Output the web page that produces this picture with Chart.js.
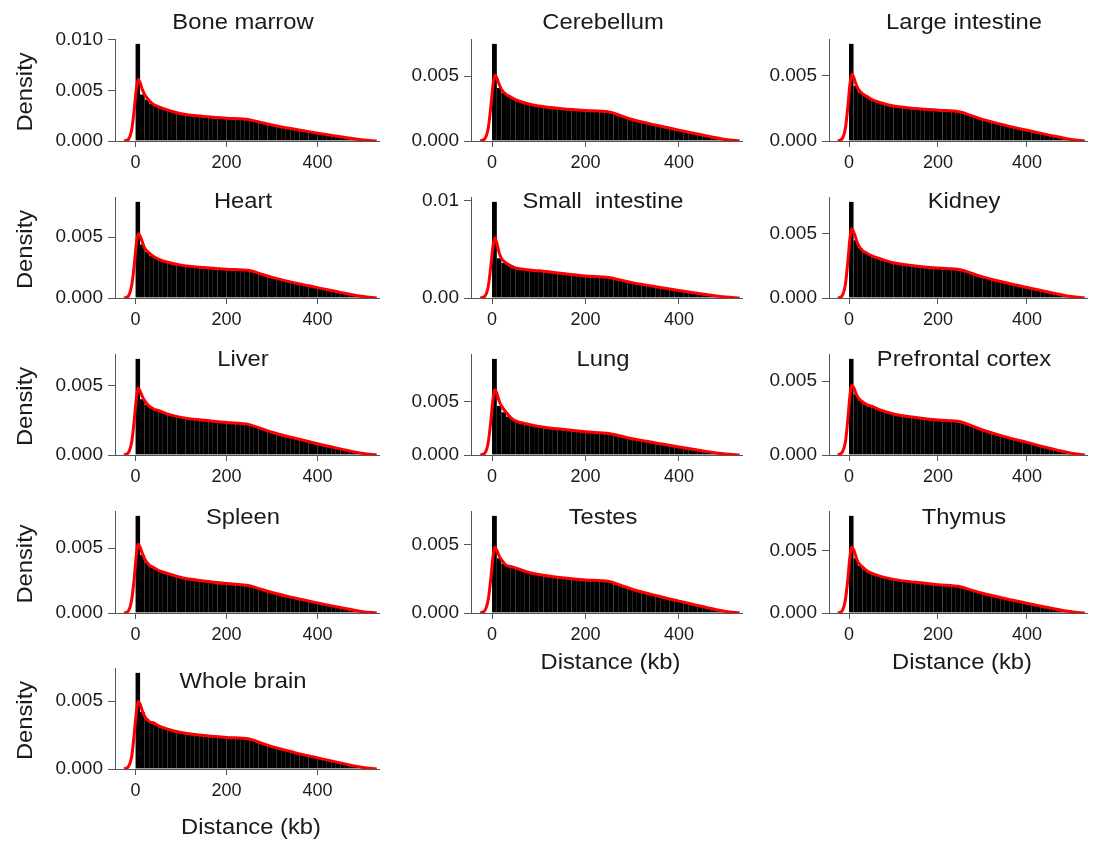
<!DOCTYPE html>
<html>
<head>
<meta charset="utf-8">
<script src="https://cdn.jsdelivr.net/npm/chart.js@4.4.0/dist/chart.umd.min.js"></script>
<style>
  body { margin: 0; background: #fff; }
  #wrap { position: relative; width: 1097px; height: 845px; overflow: hidden; }
  #wrap canvas { position: absolute; }
</style>
</head>
<body>
<div id="wrap"></div>
<script>
// panel names, in reading order
const TITLES = ['Bone marrow', 'Cerebellum', 'Large intestine', 'Heart', 'Small  intestine', 'Kidney',
                'Liver', 'Lung', 'Prefrontal cortex', 'Spleen', 'Testes', 'Thymus', 'Whole brain'];

// histogram bins (10 kb wide), bin centres
const BIN_CENTERS = [5, 15, 25, 35, 45, 55, 65, 75, 85, 95,
                     105, 115, 125, 135, 145, 155, 165, 175, 185, 195,
                     205, 215, 225, 235, 245, 255, 265, 275, 285, 295,
                     305, 315, 325, 335, 345, 355, 365, 375, 385, 395,
                     405, 415, 425, 435, 445, 455, 465, 475, 485, 495];

// x positions of the density curve samples
const CURVE_X = [-25, -15, -8, -3, 2, 6, 10, 15, 20, 30, 40, 50, 75, 100, 150, 200, 250, 275, 300, 350, 400, 450, 500, 530];

const X_TICKS = [0, 200, 400];

const boneMarrowBins = [0.0096, 0.0046, 0.0041, 0.0037, 0.0035, 0.0033, 0.0031, 0.0030, 0.0029, 0.0028,
  0.0027, 0.00263, 0.00255, 0.00248, 0.00242, 0.00238, 0.00234, 0.0023, 0.00227, 0.00225,
  0.00222, 0.0022, 0.00217, 0.00214, 0.0021, 0.00202, 0.00193, 0.00184, 0.00175, 0.00166,
  0.00157, 0.00148, 0.00139, 0.0013, 0.00121, 0.00113, 0.00105, 0.00097, 0.00089, 0.00081,
  0.00073, 0.00066, 0.00058, 0.0005, 0.00043, 0.00036, 0.00029, 0.00021, 0.00014, 0.00007];
const cerebellumBins = [0.0075, 0.0041, 0.0037, 0.0035, 0.0033, 0.0031, 0.0030, 0.0029, 0.0028, 0.0027,
  0.00268, 0.00263, 0.00258, 0.00253, 0.0025, 0.00246, 0.00243, 0.0024, 0.00237, 0.00235,
  0.00233, 0.00231, 0.00229, 0.00227, 0.00224, 0.00215, 0.00205, 0.00195, 0.00185, 0.00175,
  0.00165, 0.00156, 0.00146, 0.00137, 0.00128, 0.0012, 0.00111, 0.00103, 0.00095, 0.00087,
  0.00079, 0.00071, 0.00063, 0.00055, 0.00048, 0.0004, 0.00032, 0.00024, 0.00016, 0.00008];
const largeIntestineBins = [0.0074, 0.0042, 0.0037, 0.0035, 0.0033, 0.0031, 0.00298, 0.00288, 0.00278, 0.0027,
  0.00264, 0.00259, 0.00254, 0.0025, 0.00246, 0.00242, 0.00239, 0.00236, 0.00234, 0.00232,
  0.0023, 0.00228, 0.00226, 0.00224, 0.0022, 0.00212, 0.00203, 0.00194, 0.00184, 0.00175,
  0.00165, 0.00156, 0.00146, 0.00137, 0.00128, 0.00119, 0.0011, 0.00102, 0.00094, 0.00086,
  0.00078, 0.0007, 0.00062, 0.00054, 0.00047, 0.00039, 0.00031, 0.00023, 0.00015, 0.00007];
const heartBins = [0.0079, 0.0044, 0.0038, 0.0035, 0.0033, 0.0031, 0.003, 0.0029, 0.00282, 0.00275,
  0.00268, 0.00262, 0.00257, 0.00253, 0.00249, 0.00245, 0.00242, 0.00239, 0.00236, 0.00234,
  0.00232, 0.0023, 0.00229, 0.00227, 0.00225, 0.00216, 0.00207, 0.00197, 0.00188, 0.00178,
  0.00168, 0.00159, 0.00149, 0.0014, 0.0013, 0.00121, 0.00112, 0.00104, 0.00095, 0.00087,
  0.00079, 0.00071, 0.00063, 0.00055, 0.00048, 0.0004, 0.00032, 0.00024, 0.00016, 0.00008];
const smallIntestineBins = [0.0099, 0.0041, 0.0036, 0.0034, 0.0032, 0.0031, 0.003, 0.0029, 0.00285, 0.0028,
  0.00275, 0.0027, 0.00264, 0.00258, 0.00252, 0.00246, 0.0024, 0.00235, 0.0023, 0.00226,
  0.00222, 0.00219, 0.00216, 0.00213, 0.0021, 0.00202, 0.00193, 0.00184, 0.00175, 0.00166,
  0.00157, 0.00148, 0.00139, 0.0013, 0.00121, 0.00113, 0.00105, 0.00097, 0.00089, 0.00081,
  0.00073, 0.00066, 0.00058, 0.0005, 0.00043, 0.00036, 0.00029, 0.00021, 0.00014, 0.00007];
const kidneyBins = [0.0075, 0.0045, 0.0039, 0.0036, 0.0034, 0.0032, 0.0031, 0.003, 0.00288, 0.0028,
  0.00272, 0.00265, 0.00259, 0.00253, 0.00248, 0.00244, 0.0024, 0.00237, 0.00234, 0.00232,
  0.0023, 0.00228, 0.00226, 0.00224, 0.0022, 0.00212, 0.00203, 0.00194, 0.00184, 0.00175,
  0.00165, 0.00156, 0.00146, 0.00137, 0.00128, 0.00119, 0.0011, 0.00102, 0.00094, 0.00086,
  0.00078, 0.0007, 0.00062, 0.00054, 0.00047, 0.00039, 0.00031, 0.00023, 0.00015, 0.00007];
const liverBins = [0.0069, 0.0040, 0.0036, 0.0034, 0.0032, 0.0031, 0.003, 0.0029, 0.0028, 0.00275,
  0.00268, 0.00262, 0.00257, 0.00252, 0.00248, 0.00244, 0.0024, 0.00237, 0.00234, 0.00231,
  0.00229, 0.00227, 0.00225, 0.00222, 0.00217, 0.00209, 0.002, 0.00191, 0.00182, 0.00173,
  0.00164, 0.00155, 0.00145, 0.00136, 0.00127, 0.00118, 0.00109, 0.00101, 0.00093, 0.00085,
  0.00077, 0.00069, 0.00061, 0.00054, 0.00046, 0.00038, 0.00031, 0.00023, 0.00015, 0.00007];
const lungBins = [0.0090, 0.0046, 0.0040, 0.0036, 0.0033, 0.0031, 0.003, 0.0029, 0.0028, 0.00272,
  0.00265, 0.00258, 0.00251, 0.00244, 0.00238, 0.00232, 0.00227, 0.00222, 0.00218, 0.00215,
  0.00212, 0.0021, 0.00207, 0.00204, 0.002, 0.00193, 0.00185, 0.00177, 0.00169, 0.0016,
  0.00151, 0.00143, 0.00134, 0.00126, 0.00117, 0.00109, 0.00101, 0.00093, 0.00085, 0.00078,
  0.0007, 0.00063, 0.00056, 0.00049, 0.00042, 0.00035, 0.00028, 0.00021, 0.00014, 0.00007];
const prefrontalBins = [0.0065, 0.0041, 0.0037, 0.0035, 0.0033, 0.0032, 0.0031, 0.003, 0.0029, 0.00282,
  0.00275, 0.00268, 0.00262, 0.00257, 0.00252, 0.00248, 0.00244, 0.0024, 0.00237, 0.00234,
  0.00232, 0.0023, 0.00228, 0.00226, 0.00224, 0.00216, 0.00207, 0.00197, 0.00188, 0.00178,
  0.00168, 0.00159, 0.00149, 0.0014, 0.0013, 0.00121, 0.00112, 0.00104, 0.00095, 0.00087,
  0.00079, 0.00071, 0.00063, 0.00055, 0.00048, 0.0004, 0.00032, 0.00024, 0.00016, 0.00008];
const spleenBins = [0.0075, 0.0045, 0.0039, 0.0036, 0.0034, 0.0032, 0.0031, 0.003, 0.0029, 0.0028,
  0.00272, 0.00265, 0.00258, 0.00252, 0.00246, 0.00241, 0.00236, 0.00232, 0.00228, 0.00225,
  0.00222, 0.0022, 0.00217, 0.00214, 0.0021, 0.00202, 0.00193, 0.00184, 0.00175, 0.00166,
  0.00157, 0.00148, 0.00139, 0.0013, 0.00121, 0.00113, 0.00105, 0.00097, 0.00089, 0.00081,
  0.00073, 0.00066, 0.00058, 0.0005, 0.00043, 0.00036, 0.00029, 0.00021, 0.00014, 0.00007];
const testesBins = [0.0071, 0.0040, 0.0036, 0.0034, 0.0033, 0.0032, 0.0031, 0.003, 0.0029, 0.00285,
  0.00278, 0.00272, 0.00266, 0.00261, 0.00256, 0.00252, 0.00248, 0.00245, 0.00242, 0.0024,
  0.00238, 0.00236, 0.00234, 0.00232, 0.0023, 0.00221, 0.00211, 0.00202, 0.00192, 0.00182,
  0.00172, 0.00162, 0.00153, 0.00143, 0.00133, 0.00124, 0.00115, 0.00106, 0.00097, 0.00089,
  0.00081, 0.00073, 0.00065, 0.00057, 0.00049, 0.00041, 0.00033, 0.00025, 0.00016, 0.00008];
const thymusBins = [0.0078, 0.0044, 0.0038, 0.0035, 0.0033, 0.0031, 0.003, 0.0029, 0.00282, 0.00275,
  0.00268, 0.00262, 0.00256, 0.0025, 0.00245, 0.0024, 0.00236, 0.00232, 0.00228, 0.00225,
  0.00222, 0.0022, 0.00217, 0.00214, 0.0021, 0.00202, 0.00193, 0.00184, 0.00175, 0.00166,
  0.00157, 0.00148, 0.00139, 0.0013, 0.00121, 0.00113, 0.00105, 0.00097, 0.00089, 0.00081,
  0.00073, 0.00066, 0.00058, 0.0005, 0.00043, 0.00036, 0.00029, 0.00021, 0.00014, 0.00007];
const wholeBrainBins = [0.0071, 0.0042, 0.0037, 0.0035, 0.0033, 0.0031, 0.003, 0.0029, 0.0028, 0.00272,
  0.00266, 0.0026, 0.00255, 0.0025, 0.00246, 0.00242, 0.00239, 0.00236, 0.00233, 0.00231,
  0.00229, 0.00227, 0.00225, 0.00223, 0.0022, 0.00212, 0.00203, 0.00194, 0.00184, 0.00175,
  0.00165, 0.00156, 0.00146, 0.00137, 0.00128, 0.00119, 0.0011, 0.00102, 0.00094, 0.00086,
  0.00078, 0.0007, 0.00062, 0.00054, 0.00047, 0.00039, 0.00031, 0.00023, 0.00015, 0.00007];

// density curves, sampled at CURVE_X
const boneMarrowCurve = [0, 0.0002, 0.0012, 0.0030, 0.0052, 0.0061, 0.0058, 0.0051, 0.0046, 0.0040, 0.0036, 0.0034, 0.0030, 0.0027, 0.00243, 0.00226, 0.00211, 0.00184, 0.00158, 0.00116, 0.00078, 0.00042, 0.0001, 0];
const cerebellumCurve = [0, 0.0002, 0.001, 0.0025, 0.0043, 0.0051, 0.0049, 0.0044, 0.004, 0.0036, 0.0034, 0.0032, 0.0029, 0.0027, 0.00249, 0.00236, 0.00225, 0.00196, 0.00166, 0.00123, 0.00084, 0.00046, 0.00012, 0];
const largeIntestineCurve = [0, 0.0002, 0.001, 0.0025, 0.0043, 0.0051, 0.0049, 0.0044, 0.0040, 0.0036, 0.0034, 0.00318, 0.00288, 0.00266, 0.00247, 0.00235, 0.00221, 0.00193, 0.00165, 0.00121, 0.00082, 0.00045, 0.00011, 0];
const heartCurve = [0, 0.0002, 0.0011, 0.0026, 0.0045, 0.0053, 0.0051, 0.0046, 0.0041, 0.0037, 0.0034, 0.0032, 0.0029, 0.0027, 0.0025, 0.00236, 0.00226, 0.00198, 0.00169, 0.00124, 0.00085, 0.00046, 0.00012, 0];
const smallIntestineCurve = [0, 0.0002, 0.0012, 0.0031, 0.0053, 0.0062, 0.0057, 0.0047, 0.0041, 0.0036, 0.0033, 0.0031, 0.0029, 0.0028, 0.00253, 0.00227, 0.0021, 0.00184, 0.00158, 0.00116, 0.00078, 0.00042, 0.0001, 0];
const kidneyCurve = [0, 0.0002, 0.0011, 0.0027, 0.0046, 0.0054, 0.0052, 0.0047, 0.0042, 0.0037, 0.0035, 0.0033, 0.003, 0.00275, 0.00249, 0.00233, 0.00221, 0.00193, 0.00165, 0.00121, 0.00082, 0.00045, 0.00011, 0];
const liverCurve = [0, 0.0002, 0.0010, 0.0024, 0.0041, 0.0048, 0.0046, 0.0042, 0.0039, 0.0035, 0.0033, 0.0032, 0.0029, 0.0027, 0.00249, 0.00233, 0.00218, 0.00191, 0.00163, 0.0012, 0.00081, 0.00044, 0.00011, 0];
const lungCurve = [0, 0.0002, 0.0012, 0.003, 0.0052, 0.0061, 0.0058, 0.0051, 0.0046, 0.004, 0.0035, 0.0032, 0.0029, 0.00267, 0.0024, 0.00217, 0.00201, 0.00178, 0.00152, 0.00113, 0.00074, 0.00039, 0.0001, 0];
const prefrontalCurve = [0, 0.0002, 0.0009, 0.0023, 0.004, 0.0047, 0.0046, 0.0042, 0.0039, 0.0036, 0.0034, 0.0033, 0.003, 0.00277, 0.00253, 0.00236, 0.00225, 0.00198, 0.00169, 0.00124, 0.00085, 0.00046, 0.00012, 0];
const spleenCurve = [0, 0.0002, 0.0011, 0.0026, 0.0045, 0.0053, 0.0051, 0.0046, 0.0042, 0.0037, 0.0035, 0.0033, 0.003, 0.00274, 0.00247, 0.00227, 0.00211, 0.00184, 0.00158, 0.00116, 0.00078, 0.00042, 0.0001, 0];
const testesCurve = [0, 0.0002, 0.001, 0.0024, 0.0041, 0.0048, 0.0046, 0.0042, 0.0039, 0.0035, 0.0034, 0.0033, 0.003, 0.00281, 0.00257, 0.00241, 0.00231, 0.00203, 0.00174, 0.00128, 0.00087, 0.00047, 0.00012, 0];
const thymusCurve = [0, 0.0002, 0.0011, 0.0026, 0.0045, 0.0053, 0.0051, 0.0046, 0.0041, 0.0037, 0.0034, 0.0032, 0.0029, 0.0027, 0.00246, 0.00227, 0.00211, 0.00184, 0.00158, 0.00116, 0.00078, 0.00042, 0.0001, 0];
const wholeBrainCurve = [0, 0.0002, 0.001, 0.0025, 0.0042, 0.005, 0.0048, 0.0043, 0.0039, 0.0035, 0.0034, 0.0032, 0.0029, 0.0027, 0.00247, 0.00233, 0.00221, 0.00193, 0.00165, 0.00121, 0.00082, 0.00045, 0.00011, 0];

const PANEL_BINS = [boneMarrowBins, cerebellumBins, largeIntestineBins, heartBins, smallIntestineBins, kidneyBins,
                    liverBins, lungBins, prefrontalBins, spleenBins, testesBins, thymusBins, wholeBrainBins];
const PANEL_CURVES = [boneMarrowCurve, cerebellumCurve, largeIntestineCurve, heartCurve, smallIntestineCurve, kidneyCurve,
                      liverCurve, lungCurve, prefrontalCurve, spleenCurve, testesCurve, thymusCurve, wholeBrainCurve];

// y tick values shown on each panel
const Y_TICKS = [[0, 0.005, 0.01], [0, 0.005], [0, 0.005], [0, 0.005], [0, 0.01], [0, 0.005],
                 [0, 0.005], [0, 0.005], [0, 0.005], [0, 0.005], [0, 0.005], [0, 0.005], [0, 0.005]];
const Y_DIGITS = [3, 3, 3, 3, 2, 3, 3, 3, 3, 3, 3, 3, 3];

// page layout (pixels)
const COL_LEFT = [115, 471, 829];
const COL_RIGHT = [379, 742, 1087];
const ROW_TOP = [39, 197, 354, 511, 668];
const ROW_BOTTOM = [141, 298, 455, 613, 769];
const TITLE_CX = [243, 603, 964];
const TITLE_CY = [23, 202, 360, 518, 682];
const XLABEL_CY = { 10: 663, 11: 663, 12: 828 };

const TEXT = '#1a1a1a';
const AXIS = '#555555';
const PAD_TOP = 45, PAD_LEFT = 115, PAD_RIGHT = 10, XAXIS_H = 30, PAD_BOTTOM = 50;

Chart.defaults.font.family = '"Liberation Sans", Arial, sans-serif';
Chart.defaults.color = TEXT;

// draws text a little wider, like the original export
function stretchedText(ctx, text, x, y, angle) {
    ctx.save();
    ctx.translate(x, y);
    if (angle) ctx.rotate(angle);
    ctx.scale(1.08, 1);
    ctx.fillText(text, 0, 0);
    ctx.restore();
}

const panelText = {
    id: 'panelText',
    afterDraw(chart, args, opts) {
        const ctx = chart.ctx;
        ctx.save();
        ctx.fillStyle = TEXT;
        ctx.textAlign = 'center';
        ctx.textBaseline = 'middle';
        ctx.font = '22px "Liberation Sans", Arial, sans-serif';
        stretchedText(ctx, opts.title, opts.titleX, opts.titleY, 0);
        if (opts.yLabel) {
            const a = chart.chartArea;
            stretchedText(ctx, 'Density', 26, (a.top + a.bottom) / 2 + 2, -Math.PI / 2);
        }
        if (opts.xLabelY) {
            const a = chart.chartArea;
            stretchedText(ctx, 'Distance (kb)', (a.left + a.right) / 2 + 4, opts.xLabelY, 0);
        }
        ctx.restore();
    }
};

const wrap = document.getElementById('wrap');

TITLES.forEach((title, i) => {
    const row = Math.floor(i / 3);
    const col = i % 3;
    const plotW = COL_RIGHT[col] - COL_LEFT[col];
    const plotH = ROW_BOTTOM[row] - ROW_TOP[row];
    const left = COL_LEFT[col] - PAD_LEFT;
    const top = ROW_TOP[row] - PAD_TOP;

    const canvas = document.createElement('canvas');
    canvas.width = plotW + PAD_LEFT + PAD_RIGHT;
    canvas.height = plotH + PAD_TOP + XAXIS_H + PAD_BOTTOM;
    canvas.style.left = left + 'px';
    canvas.style.top = top + 'px';
    wrap.appendChild(canvas);

    const bins = PANEL_BINS[i];
    const curve = PANEL_CURVES[i];
    const digits = Y_DIGITS[i];

    new Chart(canvas.getContext('2d'), {
        type: 'bar',
        data: {
            datasets: [{
                type: 'line',
                data: CURVE_X.map((x, k) => ({ x: x, y: curve[k] })),
                borderColor: '#ff0000',
                borderWidth: 3,
                pointRadius: 0,
                cubicInterpolationMode: 'monotone',
                fill: false
            }, {
                type: 'bar',
                data: BIN_CENTERS.map((x, k) => ({ x: x, y: bins[k] })),
                backgroundColor: '#000000',
                borderColor: 'rgba(90,90,90,0.7)',
                borderWidth: { top: 0, left: 0, bottom: 0, right: 0.35 },
                borderSkipped: false,
                barPercentage: 1,
                categoryPercentage: 1
            }]
        },
        options: {
            responsive: false,
            animation: false,
            devicePixelRatio: 1,
            layout: { padding: { top: PAD_TOP, left: 0, right: PAD_RIGHT, bottom: PAD_BOTTOM } },
            plugins: {
                legend: { display: false },
                tooltip: { enabled: false },
                panelText: {
                    title: title,
                    titleX: TITLE_CX[col] - left,
                    titleY: TITLE_CY[row] - top,
                    yLabel: col === 0,
                    xLabelY: XLABEL_CY[i] ? XLABEL_CY[i] - top : null
                }
            },
            scales: {
                x: {
                    type: 'linear',
                    min: -45,
                    max: 535,
                    offset: false,
                    afterBuildTicks: (s) => { s.ticks = X_TICKS.map(v => ({ value: v })); },
                    afterFit: (s) => { s.height = XAXIS_H; },
                    grid: { offset: false, drawOnChartArea: false, drawTicks: true, tickLength: 6, color: AXIS },
                    border: { display: true, color: AXIS, width: 1 },
                    ticks: { font: { size: 18 }, color: TEXT, padding: 5, maxRotation: 0, autoSkip: false }
                },
                y: {
                    type: 'linear',
                    min: 0,
                    max: Math.max(...bins) * 1.05,
                    afterBuildTicks: (s) => { s.ticks = Y_TICKS[i].map(v => ({ value: v })); },
                    afterFit: (s) => { s.width = PAD_LEFT; },
                    grid: { offset: false, drawOnChartArea: false, drawTicks: true, tickLength: 7, color: AXIS },
                    border: { display: true, color: AXIS, width: 1 },
                    ticks: {
                        font: { size: 19 }, color: TEXT, padding: 5,
                        callback: (v) => Number(v).toFixed(digits)
                    }
                }
            }
        },
        plugins: [panelText]
    });
});
</script>
</body>
</html>
